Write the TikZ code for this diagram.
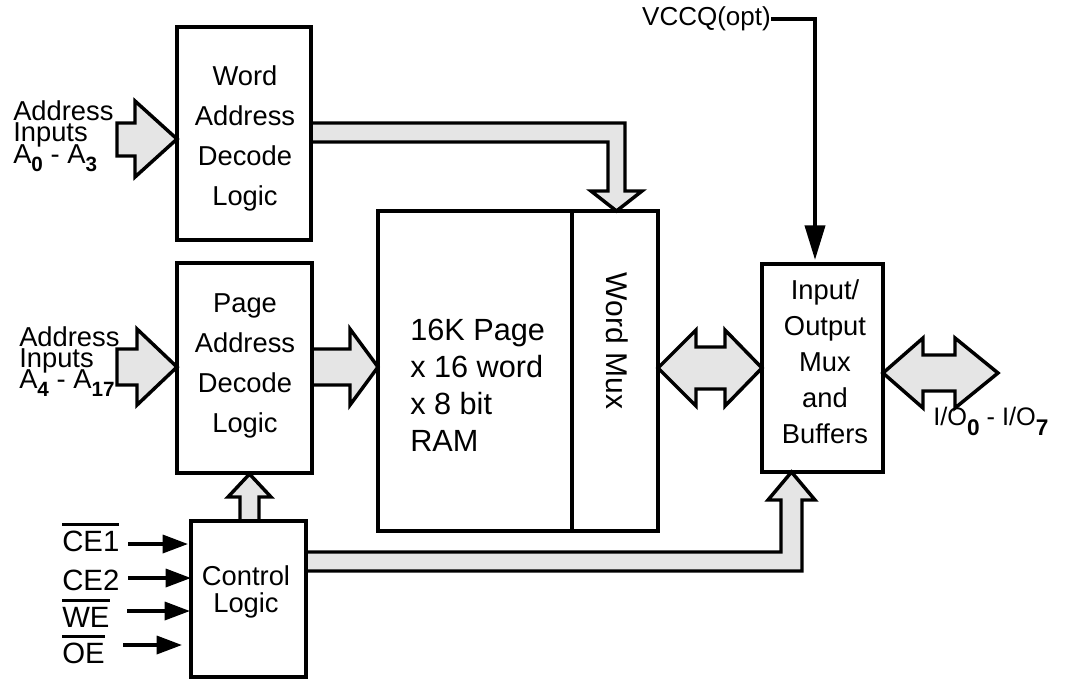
\documentclass[tikz,border=0pt]{standalone}
\usepackage{fontspec}
\setmainfont{Liberation Sans}
\usetikzlibrary{arrows.meta,calc}
\lineskiplimit=-100pt
\newcommand\ovl[1]{\setbox0=\hbox{#1}\leavevmode\rlap{\vrule width\wd0 height \dimexpr\ht0+6pt\relax depth -\dimexpr\ht0+3.75pt\relax}\box0}
\newcommand\sbx[3]{\raisebox{-#2}{\fontsize{#1}{#1}\selectfont\bfseries #3}}
\begin{document}
\begin{tikzpicture}[x=0.75pt,y=-0.75pt,
  blk/.style={draw, line width=2.4pt, outer sep=0pt, inner sep=0pt},
  fat/.style={draw, line width=2.6pt, fill=gray!20, line join=miter, miter limit=10},
  txt/.style={inner sep=0pt, align=center, font=\fontsize{20.5}{30}\selectfont},
  sig/.style={line width=2.6pt, -{Triangle[length=19pt, width=13.5pt]}},
  sigv/.style={line width=3pt, line join=miter, -{Triangle[length=26pt, width=15pt]}},
  lbl/.style={inner sep=0pt, anchor=base west, font=\fontsize{22}{22}\selectfont}]
\path[fill=white, use as bounding box] (0,0) rectangle (1066,679);

% block arrows (drawn beneath the boxes)
\path[fat] (117,123) -- (135,123) -- (135,101) -- (177,139) -- (135,177) -- (135,156) -- (117,156) -- cycle;
\path[fat] (117,349) -- (137,349) -- (137,329) -- (177,367) -- (137,405) -- (137,385) -- (117,385) -- cycle;
\path[fat] (312,349) -- (350,349) -- (350,329) -- (378,367) -- (350,405) -- (350,385) -- (312,385) -- cycle;
\path[fat] (311,123) -- (625,123) -- (625,191) -- (642,191) -- (616.5,211) -- (591,191) -- (608,191) -- (608,142) -- (311,142) -- cycle;
\path[fat] (240,521) -- (240,497) -- (228,497) -- (249.5,474) -- (271,497) -- (259,497) -- (259,521) -- cycle;
\path[fat] (306,552) -- (781,552) -- (781,500) -- (768,500) -- (791.5,472) -- (815,500) -- (802,500) -- (802,571) -- (306,571) -- cycle;
\path[fat] (658,368) -- (696,330) -- (696,347) -- (725,347) -- (725,330) -- (762,368) -- (725,406) -- (725,389) -- (696,389) -- (696,406) -- cycle;
\path[fat] (883,373) -- (923,338) -- (923,355) -- (955,355) -- (955,338) -- (998,373) -- (955,408) -- (955,391) -- (923,391) -- (923,408) -- cycle;

% boxes
\node[blk, minimum width=100.5pt, minimum height=159.75pt] (wad) at (244,133.5) {};
\node[blk, minimum width=101.25pt, minimum height=157.5pt] (pad) at (244.5,368) {};
\node[blk, minimum width=86.25pt, minimum height=117pt] (ctl) at (248.5,599) {};
\node[blk, minimum width=145.5pt, minimum height=240pt] (ram) at (475,371) {};
\node[blk, minimum width=64.5pt, minimum height=240pt] (mux) at (615,371) {};
\node[blk, minimum width=90.75pt, minimum height=156pt] (iob) at (822.5,368) {};

% box texts
\node[txt] (wadt) at (245,138) {Word\\Address\\Decode\\Logic};
\node[txt] (padt) at (245,366) {Page\\Address\\Decode\\Logic};
\node[txt, font=\fontsize{20.5}{20.25}\selectfont] (ctlt) at (246,592) {Control\\Logic};
\node[txt, align=left, anchor=west, font=\fontsize{23}{27.75}\selectfont] (ramt) at (410,385) {16K Page\\x 16 word\\x 8 bit\\RAM};
\node[txt, rotate=-90, font=\fontsize{22.5}{27}\selectfont] (muxt) at (617,341) {Word Mux};
\node[txt, font=\fontsize{20.5}{27}\selectfont] (iobt) at (825,362) {Input/\\Output\\Mux\\and\\Buffers};

% outer labels
\node[txt, align=left, anchor=west, font=\fontsize{20.5}{16}\selectfont] (a1) at (13,136) {Address\\Inputs\\A\sbx{15.5}{6pt}{0} - A\sbx{15.5}{6pt}{3}};
\node[txt, align=left, anchor=west, font=\fontsize{20.5}{16}\selectfont] (a2) at (19,361.5) {Address\\Inputs\\A\sbx{15.5}{6pt}{4} - A\sbx{15.5}{6pt}{17}};
\node[inner sep=0pt, anchor=base west, font=\fontsize{19}{19}\selectfont] (iol) at (933,425) {I/O\sbx{17}{7.5pt}{0} - I/O\sbx{17}{7.5pt}{7}};
\node[inner sep=0pt, anchor=east, font=\fontsize{19.5}{19.5}\selectfont] (vccq) at (771,19) {VCCQ(opt)};

% VCCQ supply line
\coordinate (vcx) at (815,19);
\draw[sigv, shorten >=3pt] (vccq.east) -- (vcx) -- (vcx |- iob.north);

% control signals
\node[lbl] (ce1) at (62,551) {\ovl{CE1}};
\node[lbl] (ce2) at (62,590) {CE2};
\node[lbl] (we) at (62,627) {\ovl{WE}};
\node[lbl] (oe) at (62,663) {\ovl{OE}};
\coordinate (s1) at (128,544);
\coordinate (s2) at (128,578);
\coordinate (s3) at (127,611);
\coordinate (s4) at (123,645);
\draw[sig, shorten >=2.25pt] (s1) -- (s1 -| ctl.west);
\draw[sig] (s2) -- (s2 -| ctl.west);
\draw[sig, shorten >=0.75pt] (s3) -- (s3 -| ctl.west);
\draw[sig, shorten >=6.75pt] (s4) -- (s4 -| ctl.west);
\end{tikzpicture}
\end{document}
